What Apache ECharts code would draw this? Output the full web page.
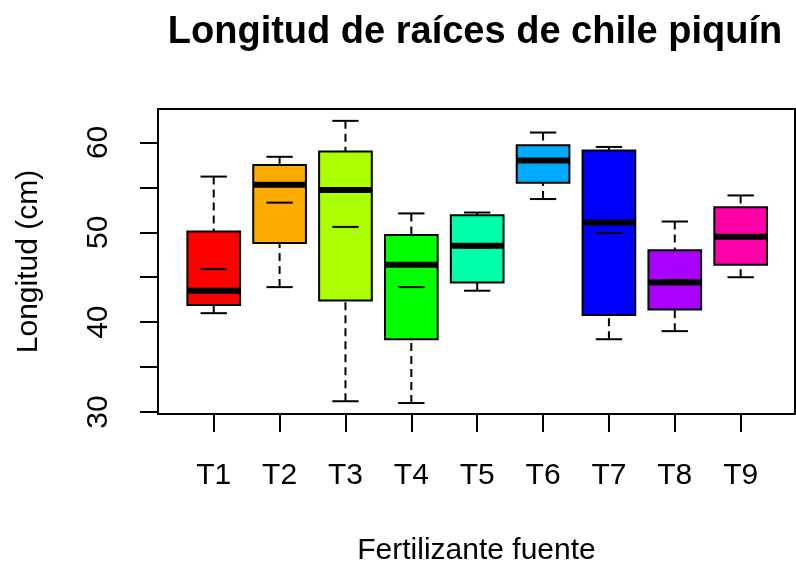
<!DOCTYPE html>
<html>
<head>
<meta charset="utf-8">
<script src="https://cdn.jsdelivr.net/npm/echarts@6/dist/echarts.min.js"></script>
<style>
  html, body { margin: 0; padding: 0; background: #ffffff; }
  #chart { width: 796px; height: 564px; }
</style>
</head>
<body>
<div id="chart"></div>
<script>
// Root length (cm) per fertilizer source: five-number summaries plus mean
const categories   = ['T1', 'T2', 'T3', 'T4', 'T5', 'T6', 'T7', 'T8', 'T9'];
const lowerWhisker = [41.0, 43.9, 31.2, 31.0, 43.5, 53.7, 38.1, 39.0, 45.0];
const lowerQuart   = [41.9, 48.8, 42.4, 38.1, 44.4, 55.5, 40.8, 41.4, 46.4];
const medians      = [43.5, 55.3, 54.7, 46.4, 48.5, 58.0, 51.1, 44.4, 49.5];
const upperQuart   = [50.1, 57.5, 59.0, 49.7, 51.9, 59.7, 59.1, 48.0, 52.8];
const upperWhisker = [56.2, 58.4, 62.4, 52.1, 52.2, 61.1, 59.5, 51.2, 54.1];
const means        = [45.9, 53.3, 50.6, 43.9, 48.3, 57.9, 49.9, 44.7, 49.5];
const yTicks       = [30, 35, 40, 45, 50, 55, 60];
const yLabels      = [30, 40, 50, 60];

// rainbow(9) palette
const palette = ['#FF0000', '#FFAA00', '#AAFF00', '#00FF00', '#00FFAA',
                 '#00AAFF', '#0000FF', '#AA00FF', '#FF00AA'];

const FONT = '"Liberation Sans", Arial, sans-serif';
const positions = categories.map((c, i) => i + 1);

const boxData = categories.map((c, i) => ({
  value: [positions[i], lowerWhisker[i], lowerQuart[i], medians[i],
          upperQuart[i], upperWhisker[i], means[i]],
  itemStyle: { color: palette[i] }
}));

function renderBox(params, api) {
  const x = api.value(0);
  const lo = api.value(1), q1 = api.value(2), med = api.value(3);
  const q3 = api.value(4), hi = api.value(5), mean = api.value(6);
  const boxHalf = 0.4, capHalf = 0.2;
  const pt = (xx, yy) => api.coord([xx, yy]);
  const fill = api.visual('color');
  const black = '#000';

  const seg = (a, b, style) => ({
    type: 'line',
    shape: { x1: a[0], y1: a[1], x2: b[0], y2: b[1] },
    style: Object.assign({ stroke: black, lineWidth: 2 }, style)
  });

  const tl = pt(x - boxHalf, q3), br = pt(x + boxHalf, q1);
  return {
    type: 'group',
    children: [
      // whiskers, dashed from the caps toward the box
      seg(pt(x, hi), pt(x, q3), { lineDash: [8, 5] }),
      seg(pt(x, lo), pt(x, q1), { lineDash: [8, 5] }),
      // caps
      seg(pt(x - capHalf, hi), pt(x + capHalf, hi), {}),
      seg(pt(x - capHalf, lo), pt(x + capHalf, lo), {}),
      // box
      {
        type: 'rect',
        shape: { x: tl[0], y: tl[1], width: br[0] - tl[0], height: br[1] - tl[1] },
        style: { fill: fill, stroke: black, lineWidth: 2 }
      },
      // median
      seg(pt(x - boxHalf, med), pt(x + boxHalf, med), { lineWidth: 6 }),
      // mean
      seg(pt(x - capHalf, mean), pt(x + capHalf, mean), { lineWidth: 2 })
    ]
  };
}

const chart = echarts.init(document.getElementById('chart'), null, { renderer: 'canvas' });
chart.setOption({
  backgroundColor: '#ffffff',
  animation: false,
  textStyle: { fontFamily: FONT, color: '#000' },
  graphic: [{
    type: 'text',
    x: 475, y: 33,
    style: {
      text: 'Longitud de raíces de chile piquín',
      font: 'bold 38px ' + FONT,
      fill: '#000',
      align: 'center',
      verticalAlign: 'middle'
    }
  }],
  grid: {
    left: 158, top: 109, right: 1, bottom: 150,
    outerBoundsMode: 'none',
    containLabel: false,
    show: true, borderColor: '#000', borderWidth: 2,
    backgroundColor: 'transparent'
  },
  xAxis: {
    type: 'value',
    min: 0.154, max: 9.825,
    name: 'Fertilizante fuente',
    nameLocation: 'middle',
    nameGap: 122,
    nameTextStyle: { fontSize: 30, fontFamily: FONT, color: '#000' },
    axisLine: { show: false },
    splitLine: { show: false },
    axisTick: {
      show: true, length: 18, customValues: positions,
      lineStyle: { color: '#000', width: 2 }
    },
    axisLabel: {
      customValues: positions,
      formatter: v => categories[Math.round(v) - 1],
      margin: 47, fontSize: 30, fontFamily: FONT, color: '#000'
    }
  },
  yAxis: {
    type: 'value',
    min: 29.78, max: 63.72,
    name: 'Longitud (cm)',
    nameLocation: 'middle',
    nameGap: 114,
    nameRotate: 90,
    nameTextStyle: { fontSize: 30, fontFamily: FONT, color: '#000' },
    axisLine: { show: false },
    splitLine: { show: false },
    axisTick: {
      show: true, length: 18, customValues: yTicks,
      lineStyle: { color: '#000', width: 2 }
    },
    axisLabel: {
      customValues: yLabels,
      rotate: 90,
      margin: 44, fontSize: 30, fontFamily: FONT, color: '#000'
    }
  },
  series: [{
    type: 'custom',
    renderItem: renderBox,
    encode: { x: 0, y: [1, 2, 3, 4, 5, 6] },
    data: boxData,
    clip: false
  }]
});
</script>
</body>
</html>
